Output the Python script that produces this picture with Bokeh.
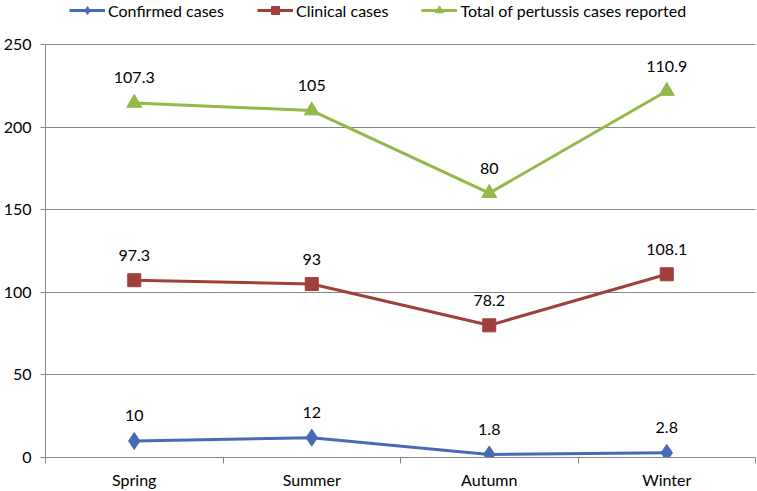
from bokeh.plotting import figure
from bokeh.models import FixedTicker, Legend, LegendItem, ColumnDataSource, Range1d
from bokeh.core.properties import value
from bokeh.embed import file_html
from bokeh.resources import INLINE

seasons = ["Spring", "Summer", "Autumn", "Winter"]
confirmed = [10, 12, 1.8, 2.8]
clinical = [97.3, 93, 78.2, 108.1]
total = [107.3, 105, 80, 110.9]
series_names = ["Confirmed cases", "Clinical cases", "Total of pertussis cases reported"]
y_ticks = [0, 50, 100, 150, 200, 250]

FONT = "Lato"
colors = ["#4A6AB8", "#A13F3C", "#94B84A"]
markers = ["diamond", "square", "triangle"]
msizes = [17, 13, 15]

x = [i + 0.5 for i in range(len(seasons))]

W, H = 757, 491
p = figure(width=W, height=H, output_backend="svg", toolbar_location=None,
           x_range=Range1d(0, len(seasons)), y_range=Range1d(0, 276.6),
           min_border_left=43, min_border_right=2, min_border_bottom=34, min_border_top=0)
p.outline_line_color = None
p.background_fill_color = "white"
p.border_fill_color = "white"

# x axis: labels at category centres, tick marks at category boundaries
p.xaxis.ticker = FixedTicker(ticks=x, minor_ticks=list(range(len(seasons) + 1)))
p.xaxis.major_label_overrides = {xi: s for xi, s in zip(x, seasons)}
p.xaxis.major_tick_out = 0
p.xaxis.major_tick_in = 0
p.xaxis.minor_tick_out = 6
p.xaxis.minor_tick_in = 0
p.xaxis.minor_tick_line_color = "#868686"
p.xaxis.axis_line_color = "#868686"
p.xaxis.major_label_standoff = 6
p.xaxis.major_label_text_font = FONT
p.xaxis.major_label_text_font_size = "16px"
p.xaxis.major_label_text_color = "#000000"

p.yaxis.ticker = FixedTicker(ticks=y_ticks)
p.yaxis.bounds = (0, 250)
p.yaxis.minor_tick_line_color = None
p.yaxis.major_tick_out = 5
p.yaxis.major_tick_in = 0
p.yaxis.major_tick_line_color = "#868686"
p.yaxis.axis_line_color = "#868686"
p.yaxis.major_label_standoff = 9
p.yaxis.major_label_text_font = FONT
p.yaxis.major_label_text_font_size = "16px"
p.yaxis.major_label_text_color = "#000000"

p.xgrid.grid_line_color = None
p.ygrid.ticker = FixedTicker(ticks=y_ticks)
p.ygrid.grid_line_color = "#868686"
p.ygrid.grid_line_width = 1

# stacked line series
stack1 = confirmed
stack2 = [a + b for a, b in zip(confirmed, clinical)]
stack3 = [a + b for a, b in zip(stack2, total)]
stacks = [stack1, stack2, stack3]
raw = [confirmed, clinical, total]

items = []
for ys, vals, c, m, ms, name in zip(stacks, raw, colors, markers, msizes, series_names):
    src = ColumnDataSource(dict(x=x, y=ys, lbl=[f"{v:g}" for v in vals]))
    l = p.line("x", "y", source=src, line_color=c, line_width=3)
    s = p.scatter("x", "y", source=src, marker=m, size=ms, fill_color=c, line_color=c)
    p.text("x", "y", text="lbl", source=src, text_align="center", text_baseline="middle",
           y_offset=-25, text_font=value(FONT), text_font_size="16px", text_color="#000000")
    items.append(LegendItem(label=name, renderers=[l, s]))

legend = Legend(items=items, orientation="horizontal", location=(24, 437),
                label_text_font=FONT, label_text_font_size="16px", label_text_color="#000000",
                glyph_width=36, glyph_height=20, label_height=14, label_standoff=3, spacing=33,
                padding=0, margin=0, border_line_color=None, background_fill_alpha=0)
p.add_layout(legend)

open("out.html", "w").write(file_html(p, INLINE))
